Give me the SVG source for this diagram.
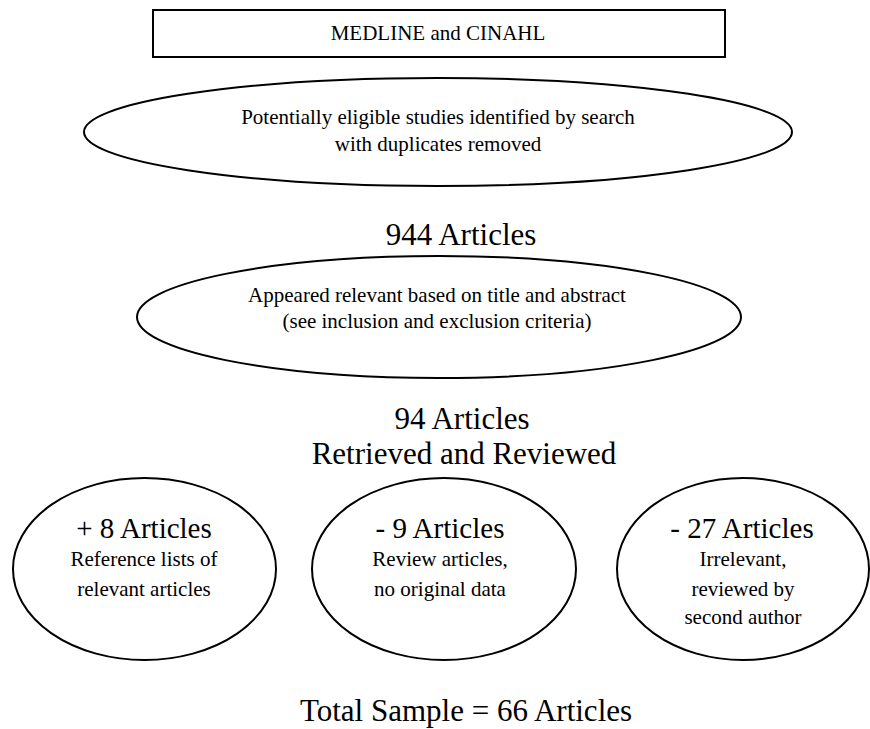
<svg xmlns="http://www.w3.org/2000/svg" width="870" height="729" viewBox="0 0 870 729">
<style>
.s{fill:#fff;stroke:#000;stroke-width:2}
text{font-family:"Liberation Serif","Times New Roman",serif;fill:#000;text-anchor:middle}
.sm{font-size:21px}
.big{font-size:31px}
.hd{font-size:29px}
</style>
<rect width="870" height="729" fill="#fff"/>
<g id="source">
<rect class="s" x="153" y="10" width="572" height="47"/>
<text class="sm" x="438" y="40">MEDLINE and CINAHL</text>
</g>
<g id="search">
<ellipse class="s" cx="438" cy="132" rx="354" ry="54"/>
<text class="sm" x="438" y="124">Potentially eligible studies identified by search</text>
<text class="sm" x="438" y="151">with duplicates removed</text>
</g>
<g id="n944">
<text class="big" x="461" y="245">944 Articles</text>
</g>
<g id="screen">
<ellipse class="s" cx="439" cy="317" rx="302" ry="61"/>
<text class="sm" x="437" y="302">Appeared relevant based on title and abstract</text>
<text class="sm" x="437" y="328">(see inclusion and exclusion criteria)</text>
</g>
<g id="n94">
<text class="big" x="462" y="429">94 Articles</text>
<text class="big" x="464" y="464">Retrieved and Reviewed</text>
</g>
<g id="plus8">
<ellipse class="s" cx="144.5" cy="569" rx="131.5" ry="91"/>
<text class="hd" x="144" y="538">+ 8 Articles</text>
<text class="sm" x="144" y="566">Reference lists of</text>
<text class="sm" x="144" y="596">relevant articles</text>
</g>
<g id="minus9">
<ellipse class="s" cx="444" cy="569" rx="132" ry="91"/>
<text class="hd" x="440" y="538">- 9 Articles</text>
<text class="sm" x="440" y="566">Review articles,</text>
<text class="sm" x="440" y="596">no original data</text>
</g>
<g id="minus27">
<ellipse class="s" cx="743" cy="569" rx="126" ry="91"/>
<text class="hd" x="742" y="538">- 27 Articles</text>
<text class="sm" x="743" y="566">Irrelevant,</text>
<text class="sm" x="743" y="596">reviewed by</text>
<text class="sm" x="743" y="624">second author</text>
</g>
<g id="total">
<text class="big" x="466" y="721">Total Sample = 66 Articles</text>
</g>
<g id="connectors"></g>
</svg>
